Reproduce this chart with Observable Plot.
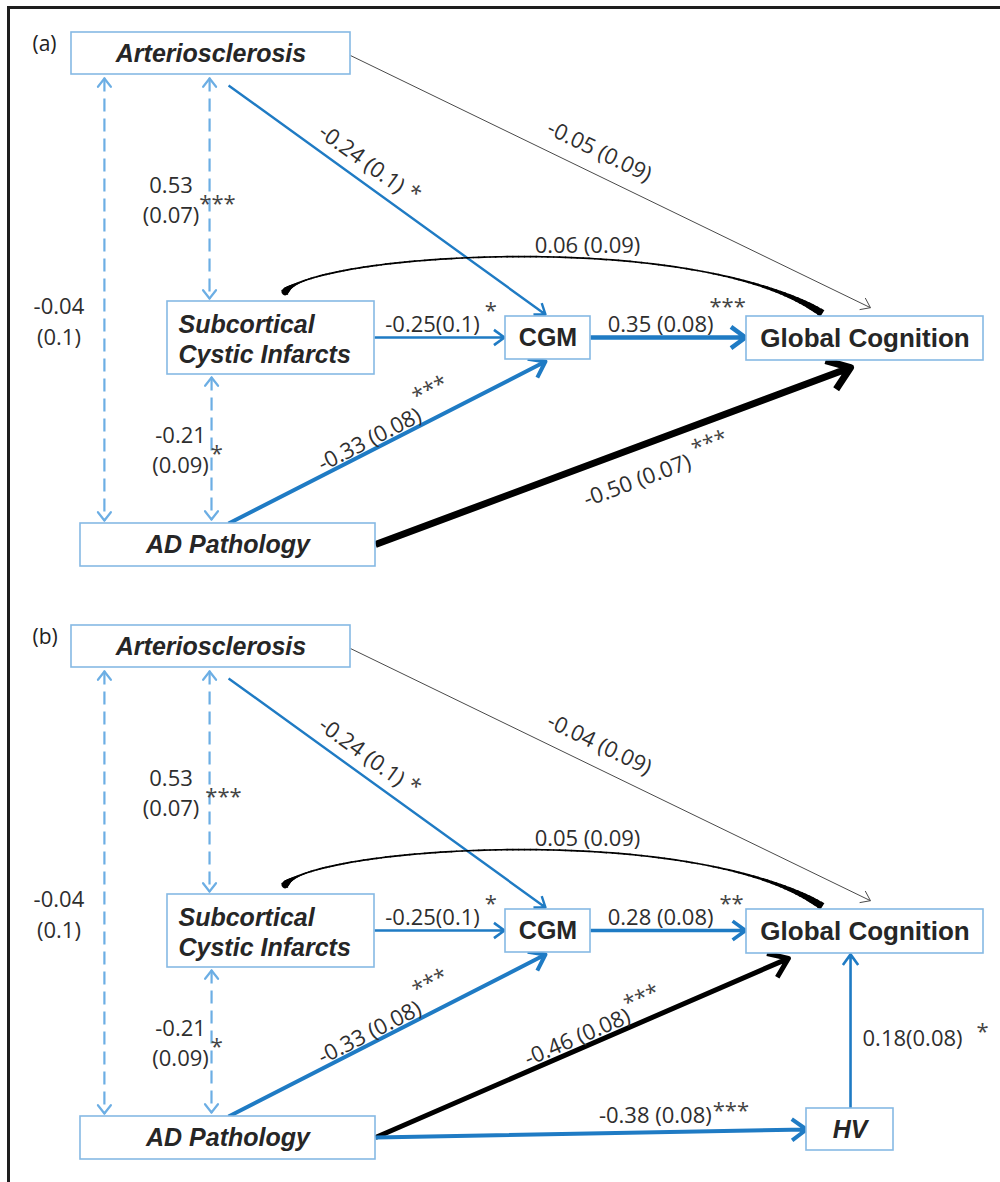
<!DOCTYPE html>
<html>
<head>
<meta charset="utf-8">
<script src="https://cdn.jsdelivr.net/npm/d3@7"></script>
<script src="https://cdn.jsdelivr.net/npm/@observablehq/plot@0.6"></script>
<style>
  body { margin: 0; background: #fff; }
  #wrap { position: relative; width: 1000px; height: 1182px; overflow: hidden; }
  #frame { position: absolute; left: 7px; top: 6px; right: -10px; bottom: -10px;
           border-top: 3px solid #1e1e1e; border-left: 3px solid #1e1e1e; pointer-events: none; }
  #wrap svg { position: absolute; left: 0; top: 0; }
</style>
</head>
<body>
<div id="wrap"><div id="frame"></div></div>
<script>
// ---------------- model content ----------------
const panels = ["(a)", "(b)"];
const nodeIds   = ["ART", "SCI", "CGM", "GC", "AD", "HV"];
const nodeNames = ["Arteriosclerosis", "Subcortical\nCystic Infarcts", "CGM", "Global Cognition", "AD Pathology", "HV"];
const nodesA = ["ART", "SCI", "CGM", "GC", "AD"];
const nodesB = ["ART", "SCI", "CGM", "GC", "AD", "HV"];

// standardized estimate, standard error and significance stars of each path
const pathsA = [
  {from: "ART", to: "AD",  est: -0.04, se: 0.1,  sig: ""},
  {from: "ART", to: "SCI", est: 0.53,  se: 0.07, sig: "***"},
  {from: "SCI", to: "AD",  est: -0.21, se: 0.09, sig: "*"},
  {from: "ART", to: "CGM", est: -0.24, se: 0.1,  sig: "*"},
  {from: "ART", to: "GC",  est: -0.05, se: 0.09, sig: ""},
  {from: "SCI", to: "GC",  est: 0.06,  se: 0.09, sig: ""},
  {from: "SCI", to: "CGM", est: -0.25, se: 0.1,  sig: "*"},
  {from: "CGM", to: "GC",  est: 0.35,  se: 0.08, sig: "***"},
  {from: "AD",  to: "CGM", est: -0.33, se: 0.08, sig: "***"},
  {from: "AD",  to: "GC",  est: -0.50, se: 0.07, sig: "***"}
];
const pathsB = [
  {from: "ART", to: "AD",  est: -0.04, se: 0.1,  sig: ""},
  {from: "ART", to: "SCI", est: 0.53,  se: 0.07, sig: "***"},
  {from: "SCI", to: "AD",  est: -0.21, se: 0.09, sig: "*"},
  {from: "ART", to: "CGM", est: -0.24, se: 0.1,  sig: "*"},
  {from: "ART", to: "GC",  est: -0.04, se: 0.09, sig: ""},
  {from: "SCI", to: "GC",  est: 0.05,  se: 0.09, sig: ""},
  {from: "SCI", to: "CGM", est: -0.25, se: 0.1,  sig: "*"},
  {from: "CGM", to: "GC",  est: 0.28,  se: 0.08, sig: "**"},
  {from: "AD",  to: "CGM", est: -0.33, se: 0.08, sig: "***"},
  {from: "AD",  to: "GC",  est: -0.46, se: 0.08, sig: "***"},
  {from: "AD",  to: "HV",  est: -0.38, se: 0.08, sig: "***"},
  {from: "HV",  to: "GC",  est: 0.18,  se: 0.08, sig: "*"}
];
const covariances = ["ART-AD", "ART-SCI", "SCI-AD"];
const curved = ["SCI-GC"];

// ---------------- layout ----------------
const W = 1000, H = 1182;
const panelTop = {"(a)": 0, "(b)": 593};
const tagPos = [32, 44];
// box corners [x1, y1, x2, y2] within a panel
const boxGeom = {
  ART: [71, 32, 350, 74],
  SCI: [167, 301, 374, 374],
  CGM: [505, 316, 590, 359],
  GC:  [746, 316, 983, 360],
  AD:  [80, 523, 375, 566],
  HV:  [806, 515, 893, 557]
};
// where each path leaves / reaches its boxes, as fractions of box width and height
const anchors = {
  "ART-AD":  [[0.118, 1.095], [0.081, -0.07]],
  "ART-SCI": [[0.495, 1.095], [0.203, -0.041]],
  "SCI-AD":  [[0.213, 1.041], [0.444, -0.093]],
  "ART-CGM": [[0.563, 1.26],  [0.47, -0.047]],
  "ART-GC":  [[1.0, 0.548],   [0.523, -0.2]],
  "SCI-GC":  [[0.565, -0.12], [0.32, -0.068]],
  "SCI-CGM": [[1.0, 0.493],   [-0.012, 0.488]],
  "CGM-GC":  [[1.0, 0.488],   [-0.004, 0.477]],
  "AD-CGM":  [[0.502, 0],     [0.47, 1.047]],
  "AD-GC":   [[1.0, 0.488],   [0.439, 1.16]],
  "AD-HV":   [[1.0, 0.488],   [0, 0.5]],
  "HV-GC":   [[0.506, 0],     [0.439, 1.02]]
};
const anchorsB = {"AD-GC": [[1.0, 0.488], [0.177, 1.11]]};
// control-point offsets of the curved path (from its start and its end)
const bend = {c1: [22, -38], c2: [-130, -86]};

// label placement: t = fraction along the path, d = offset to the left of travel,
// rot = follow the path angle; gap/raise place the significance stars
const labelPos = {
  "ART-AD":  {t: 0.546, d: -45.5, stack: true},
  "ART-SCI": {t: 0.545, d: -38.5, stack: true, gap: 0, raise: 10},
  "SCI-AD":  {t: 0.5,   d: -31,   stack: true, gap: 2, raise: 10},
  "ART-CGM": {t: 0.386, d: 21,  rot: true, gap: 6, raise: 0},
  "ART-GC":  {t: 0.46,  d: 25,  rot: true},
  "SCI-GC":  {t: 0.559, d: 61},
  "SCI-CGM": {t: 0.446, d: 15,  tight: true, gap: 5, raise: 12},
  "CGM-GC":  {t: 0.452, d: 15,  gap: -4, raise: 16},
  "AD-CGM":  {t: 0.46,  d: 13,  rot: true, gap: 2, raise: 14},
  "AD-GC":   {t: 0.528, d: -29, rot: true, gap: 6, raise: 7},
  "AD-HV":   {t: 0.65,  d: 18.8, gap: 1, raise: 3},
  "HV-GC":   {t: 0.471, d: -62, tight: true, gap: 14, raise: 4}
};
const labelPosB = {
  "ART-SCI": {gap: 6},
  "CGM-GC":  {gap: 6, raise: 12},
  "AD-GC":   {t: 0.5, d: 14, gap: 0, raise: 8}
};

// ---------------- styles ----------------
const BLUE = "#1f7bc4", LIGHT = "#6caee4", BOXLINE = "#86b9e4", INK = "#2e2e2e";
const lineStyle = {
  "ART-CGM": {stroke: BLUE, width: 2.4, head: 12},
  "ART-GC":  {stroke: "#4a4a4a", width: 1, head: 11},
  "SCI-CGM": {stroke: BLUE, width: 2.6, head: 13},
  "CGM-GC":  {stroke: BLUE, width: 4.5, head: 18},
  "AD-CGM":  {stroke: BLUE, width: 4, head: 18},
  "AD-GC":   {stroke: "#000", width: 7, head: 26},
  "AD-HV":   {stroke: BLUE, width: 4, head: 18},
  "HV-GC":   {stroke: BLUE, width: 2.6, head: 13}
};
const lineStyleB = {
  "CGM-GC": {stroke: BLUE, width: 3.6, head: 16},
  "AD-GC":  {stroke: "#000", width: 5, head: 22}
};
const italicNodes = new Set(["ART", "SCI", "AD", "HV"]);
const FS = 22, LH = 1.38, LABEL_FONT = "Open Sans";
const BOX_FONT = "'Liberation Sans', Arial, sans-serif";
const boxFontSize = id => id === "GC" ? 26 : 25;

// ---------------- geometry ----------------
const boxOf = (id, panel) => {
  const [x1, y1, x2, y2] = boxGeom[id];
  const dy = panelTop[panel];
  return {x1, y1: y1 + dy, x2, y2: y2 + dy};
};
const at = (b, [fx, fy]) => [b.x1 + fx * (b.x2 - b.x1), b.y1 + fy * (b.y2 - b.y1)];

const boxes = [];
for (const [panel, ids] of [["(a)", nodesA], ["(b)", nodesB]]) {
  for (const id of ids) {
    const b = boxOf(id, panel);
    boxes.push({...b, id, panel, name: nodeNames[nodeIds.indexOf(id)]});
  }
}

const geo = [];
for (const [panel, paths] of [["(a)", pathsA], ["(b)", pathsB]]) {
  for (const p of paths) {
    const key = `${p.from}-${p.to}`;
    const anc = (panel === "(b)" && anchorsB[key]) || anchors[key];
    geo.push({...p, panel, key,
      P0: at(boxOf(p.from, panel), anc[0]),
      P1: at(boxOf(p.to, panel), anc[1])});
  }
}

// open chevron wings at a tip, dir = unit vector of travel into the tip
function wings(tip, dir, len, halfDeg) {
  const a = halfDeg * Math.PI / 180;
  return [-1, 1].map(s => {
    const bx = -dir[0], by = -dir[1];
    const c = Math.cos(s * a), sn = Math.sin(s * a);
    return {x1: tip[0] + (bx * c - by * sn) * len, y1: tip[1] + (bx * sn + by * c) * len, x2: tip[0], y2: tip[1]};
  });
}

const covs = geo.filter(g => covariances.includes(g.key));
const covHeads = covs.flatMap(g => {
  const L = Math.hypot(g.P1[0] - g.P0[0], g.P1[1] - g.P0[1]);
  const u = [(g.P1[0] - g.P0[0]) / L, (g.P1[1] - g.P0[1]) / L];
  return [...wings(g.P1, u, 10.5, 38), ...wings(g.P0, [-u[0], -u[1]], 10.5, 38)];
});

// tapered curve drawn as short segments of varying width:
// heavy at its root, hairline across the top, swelling into a blunt end
const taper = t => 1.7 + 6.5 * Math.max(0, 1 - t / 0.1) ** 1.6 + 6 * Math.max(0, (t - 0.78) / 0.22) ** 2.2;
const curveSegs = [];
for (const g of geo.filter(g => curved.includes(g.key))) {
  const [x0, y0] = g.P0, [x3, y3] = g.P1;
  const c1 = [x0 + bend.c1[0], y0 + bend.c1[1]], c2 = [x3 + bend.c2[0], y3 + bend.c2[1]];
  const pt = t => {
    const m = 1 - t;
    return [m*m*m*x0 + 3*m*m*t*c1[0] + 3*m*t*t*c2[0] + t*t*t*x3,
            m*m*m*y0 + 3*m*m*t*c1[1] + 3*m*t*t*c2[1] + t*t*t*y3];
  };
  const N = 120;
  for (let i = 0; i < N; i++) {
    const a = pt(i / N), b = pt((i + 1) / N);
    curveSegs.push({x1: a[0], y1: a[1], x2: b[0], y2: b[1], w: taper((i + 0.5) / N),
      cap: i === 0 || i === N - 1 ? "butt" : "round"});
  }
}

// coefficient labels and their stars
const ctx = document.createElement("canvas").getContext("2d");
const measure = s => { ctx.font = `${FS}px "${LABEL_FONT}"`; return ctx.measureText(s).width; };
const labels = [], stars = [];
for (const g of geo) {
  const pos = {...labelPos[g.key], ...((g.panel === "(b)" && labelPosB[g.key]) || {})};
  const [x0, y0] = g.P0, [x1, y1] = g.P1;
  const L = Math.hypot(x1 - x0, y1 - y0);
  const ux = (x1 - x0) / L, uy = (y1 - y0) / L;
  const cx = x0 + pos.t * (x1 - x0) + pos.d * uy;
  const cy = y0 + pos.t * (y1 - y0) - pos.d * ux;
  const rot = pos.rot ? Math.atan2(uy, ux) * 180 / Math.PI : 0;
  const est = g.est.toFixed(2), se = String(g.se);
  const text = pos.stack ? `${est}\n(${se})` : pos.tight ? `${est}(${se})` : `${est} (${se})`;
  labels.push({x: cx, y: cy, text, rot});
  if (g.sig) {
    const lines = text.split("\n");
    const w = measure(lines[lines.length - 1]);
    const lineOff = (lines.length - 1) / 2 * FS * LH;
    const a = rot * Math.PI / 180;
    const e1 = [Math.cos(a), Math.sin(a)], e2 = [-Math.sin(a), Math.cos(a)];
    const along = w / 2 + (pos.gap ?? 4), across = lineOff - (pos.raise ?? 0);
    stars.push({x: cx + along * e1[0] + across * e2[0], y: cy + along * e1[1] + across * e2[1], text: g.sig, rot});
  }
}

// ---------------- marks ----------------
const marks = [];

// dashed covariances with heads at both ends
marks.push(Plot.link(covs, {x1: d => d.P0[0], y1: d => d.P0[1], x2: d => d.P1[0], y2: d => d.P1[1],
  stroke: LIGHT, strokeWidth: 2.2, strokeDasharray: "13,7"}));
marks.push(Plot.link(covHeads, {x1: "x1", y1: "y1", x2: "x2", y2: "y2",
  stroke: LIGHT, strokeWidth: 2.2, strokeLinecap: "round"}));

// straight regression paths
for (const g of geo) {
  if (covariances.includes(g.key) || curved.includes(g.key)) continue;
  const s = (g.panel === "(b)" && lineStyleB[g.key]) || lineStyle[g.key];
  marks.push(Plot.arrow([g], {
    x1: d => d.P0[0], y1: d => d.P0[1], x2: d => d.P1[0], y2: d => d.P1[1],
    stroke: s.stroke, strokeWidth: s.width, headLength: s.head * 1.5 / s.width, headAngle: 72,
    strokeLinejoin: "round", strokeLinecap: "butt"
  }));
}

// curved path (round joins in the body, squared-off ends)
marks.push(Plot.link(curveSegs.filter(d => d.cap === "round"), {x1: "x1", y1: "y1", x2: "x2", y2: "y2",
  strokeWidth: "w", stroke: "#000", strokeLinecap: "round"}));
marks.push(Plot.link(curveSegs.filter(d => d.cap === "butt"), {x1: "x1", y1: "y1", x2: "x2", y2: "y2",
  strokeWidth: "w", stroke: "#000", strokeLinecap: "butt"}));

// variable boxes
marks.push(Plot.rect(boxes, {x1: "x1", y1: "y1", x2: "x2", y2: "y2",
  fill: "#fff", stroke: BOXLINE, strokeWidth: 1.6}));

// box names: start-aligned two-line name for the infarct box, centred elsewhere
marks.push(Plot.text(boxes.filter(b => italicNodes.has(b.id) && b.id !== "SCI"), {
  x: b => (b.x1 + b.x2) / 2, y: b => (b.y1 + b.y2) / 2, text: "name",
  fontSize: b => boxFontSize(b.id), fontWeight: "bold", fontStyle: "italic", fontFamily: BOX_FONT, fill: "#262626"
}));
marks.push(Plot.text(boxes.filter(b => b.id === "SCI"), {
  x: b => b.x1 + 11, y: b => (b.y1 + b.y2) / 2, text: "name", textAnchor: "start",
  fontSize: b => boxFontSize(b.id), fontWeight: "bold", fontStyle: "italic", fontFamily: BOX_FONT, fill: "#262626",
  lineHeight: 1.2, lineAnchor: "middle"
}));
marks.push(Plot.text(boxes.filter(b => !italicNodes.has(b.id)), {
  x: b => (b.x1 + b.x2) / 2, y: b => (b.y1 + b.y2) / 2, text: "name",
  fontSize: b => boxFontSize(b.id), fontWeight: "bold", fontFamily: BOX_FONT, fill: "#262626"
}));

// coefficient labels
marks.push(Plot.text(labels, {x: "x", y: "y", text: "text", rotate: "rot",
  fontSize: FS, fontFamily: LABEL_FONT, fill: INK, lineHeight: LH, lineAnchor: "middle", textAnchor: "middle"}));
marks.push(Plot.text(stars, {x: "x", y: "y", text: "text", rotate: "rot",
  fontSize: FS, fontFamily: LABEL_FONT, fill: "#444", lineAnchor: "middle", textAnchor: "start"}));

// panel tags
marks.push(Plot.text(panels, {x: () => tagPos[0], y: p => tagPos[1] + panelTop[p], text: d => d,
  textAnchor: "start", fontSize: 21, fontFamily: LABEL_FONT, fill: "#222"}));

const chart = Plot.plot({
  width: W, height: H, margin: 0,
  x: {domain: [0, W], range: [0, W], axis: null},
  y: {domain: [0, H], range: [0, H], axis: null},
  style: {background: "transparent", overflow: "visible"},
  marks
});
document.getElementById("wrap").prepend(chart);
</script>
</body>
</html>
